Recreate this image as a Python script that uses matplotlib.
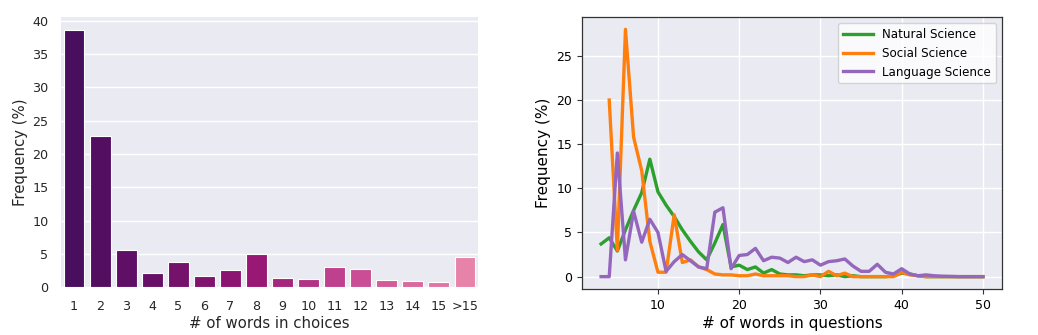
import colorsys
import numpy as np
import matplotlib
matplotlib.use("Agg")
import matplotlib.pyplot as plt

# left panel: words per choice
choice_labels = ['1', '2', '3', '4', '5', '6', '7', '8', '9', '10', '11', '12', '13', '14', '15', '>15']
choice_freq = [38.65, 22.7, 5.6, 2.1, 3.85, 1.7, 2.6, 4.95, 1.35, 1.25, 3.0, 2.7, 1.05, 0.95, 0.8, 4.55]

# right panel: words per question
q_len = list(range(3, 51))
natural = [3.7, 4.4, 2.9, 5.3, 7.5, 9.5, 13.3, 9.6, 8.1, 6.8, 5.3, 4.0, 2.8, 1.9, 3.8, 5.9,
           1.1, 1.3, 0.8, 1.1, 0.4, 0.8, 0.3, 0.2, 0.2, 0.1, 0.2, 0.2, 0.1, 0.2, 0.0, 0.1,
           0.0, 0.0, 0.0, 0.0, 0.1, 0.4, 0.3, 0.1, 0.0, 0.0, 0.0, 0.0, 0.0, 0.0, 0.0, 0.0]
social = [np.nan, 20.0, 3.0, 28.0, 15.8, 12.0, 4.0, 0.5, 0.5, 7.0, 1.6, 1.9, 1.1, 0.8, 0.3, 0.2,
          0.2, 0.1, 0.1, 0.3, 0.1, 0.1, 0.1, 0.1, 0.0, 0.0, 0.2, 0.0, 0.6, 0.1, 0.4, 0.0,
          0.0, 0.0, 0.0, 0.0, 0.0, 0.5, 0.2, 0.1, 0.0, 0.0, 0.0, 0.0, 0.0, 0.0, 0.0, 0.0]
language = [0.0, 0.0, 14.0, 1.9, 7.4, 3.9, 6.5, 5.0, 0.6, 1.7, 2.5, 1.8, 1.1, 0.9, 7.3, 7.8,
            0.9, 2.4, 2.5, 3.2, 1.8, 2.2, 2.1, 1.6, 2.2, 1.7, 1.9, 1.3, 1.7, 1.8, 2.0, 1.2,
            0.6, 0.6, 1.4, 0.5, 0.3, 0.9, 0.3, 0.1, 0.2, 0.1, 0.05, 0.03, 0.0, 0.0, 0.0, 0.0]

bg = '#EAEAF2'
txt = '.15'

def desat(c, prop=0.75):
    h, l, s = colorsys.rgb_to_hls(*c[:3])
    return colorsys.hls_to_rgb(h, l, s * prop)

fig = plt.figure(figsize=(10.38, 3.35), dpi=100)

# ---- left: bar chart, seaborn-like look
ax1 = fig.add_axes([0.0588, 0.1424, 0.4017, 0.808])
ax1.set_facecolor(bg)
cols = [desat(plt.cm.RdPu_r(v)) for v in np.linspace(0.02, 0.52, len(choice_freq))]
x = np.arange(len(choice_labels))
ax1.bar(x, choice_freq, width=0.8, color=cols, edgecolor='white', linewidth=0.8, zorder=2)
ax1.set_xticks(x)
ax1.set_xticklabels(choice_labels)
ax1.set_xlim(-0.5, len(choice_labels) - 0.5)
ax1.set_ylim(0, 40.6)
ax1.set_yticks(range(0, 41, 5))
ax1.yaxis.grid(True, color='white', linewidth=1, zorder=0)
ax1.set_axisbelow(True)
for s in ax1.spines.values():
    s.set_visible(False)
ax1.tick_params(length=0, labelsize=9.2, labelcolor=txt, pad=9)
ax1.set_xlabel('# of words in choices', fontsize=10.7, color=txt, labelpad=2)
ax1.set_ylabel('Frequency (%)', fontsize=10.7, color=txt, labelpad=3)

# ---- right: line chart
ax2 = fig.add_axes([0.5607, 0.1373, 0.4046, 0.812])
ax2.set_facecolor(bg)
ax2.plot(q_len, natural, color='#2ca02c', linewidth=2.4, label='Natural Science')
ax2.plot(q_len, social, color='#ff7f0e', linewidth=2.4, label='Social Science')
ax2.plot(q_len, language, color='#9467bd', linewidth=2.4, label='Language Science')
ax2.grid(True, color='white', linewidth=1)
ax2.set_axisbelow(True)
ax2.set_xticks([10, 20, 30, 40, 50])
ax2.set_yticks([0, 5, 10, 15, 20, 25])
for s in ax2.spines.values():
    s.set_color('#333333')
    s.set_linewidth(0.9)
ax2.tick_params(labelsize=9, length=3.5, width=0.8, color='#333333')
ax2.set_xlabel('# of words in questions', fontsize=11, labelpad=3)
ax2.set_ylabel('Frequency (%)', fontsize=11, labelpad=4)
ax2.legend(loc='upper right', fontsize=8.6, handlelength=2.5, framealpha=0.8)

fig.savefig('out.png', dpi=100)
